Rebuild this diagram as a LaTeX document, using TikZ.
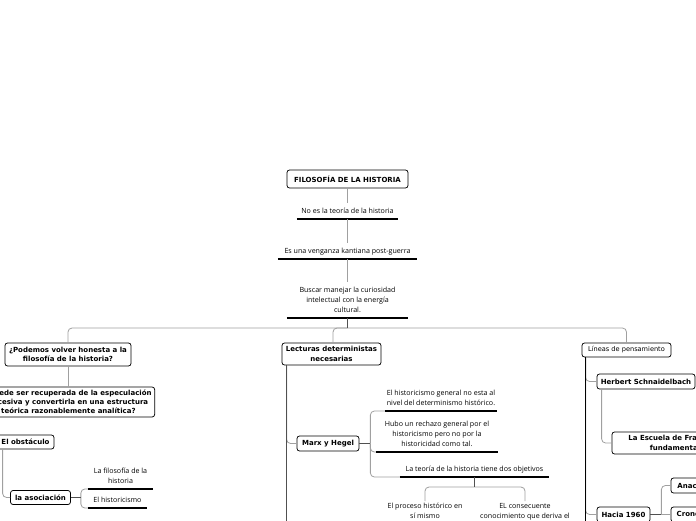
\documentclass[tikz,border=0pt]{standalone}
\usepackage{fontspec}
\newfontfamily\plainf{Open Sans}
\newfontfamily\boxf{DejaVu Sans}
\definecolor{lgray}{HTML}{A0A0A0}
\definecolor{dgray}{HTML}{505050}
\begin{document}
\begin{tikzpicture}[x=1pt,y=-1pt,
  box/.style={draw=black,line width=0.75pt,rounded corners=2.5pt,fill=white,align=center,inner sep=0pt,font=\boxf\bfseries\fontsize{7}{9.3}\selectfont},
  sbox/.style={box,inner xsep=3pt,font=\boxf\bfseries\fontsize{7}{9}\selectfont},
  lbox/.style={box,font=\boxf\fontsize{6.6}{8}\selectfont},
  topic/.style={align=center,inner xsep=0pt,inner ysep=5pt,anchor=south,font=\plainf\fontsize{7.1}{10}\selectfont},
  one/.style={text depth=0pt},
  leaf/.style={align=center,inner sep=2pt,anchor=north,font=\plainf\fontsize{7.1}{10}\selectfont},
  under/.style={draw=black,line width=1.2pt},
  conn/.style={draw=lgray,line width=0.8pt,rounded corners=4pt},
  dconn/.style={draw=dgray,line width=0.9pt},
  trunkg/.style={draw=dgray,line width=0.9pt},
  trunk/.style={draw=black,line width=1.2pt}]
\fill[white] (0,0) rectangle (696,520);
\useasboundingbox (0,0) rectangle (696,520);

% centre column
\node[box,minimum width=121pt,minimum height=18pt] (root) at (347.5,179) {FILOSOFÍA DE LA HISTORIA};
\node[topic,one,minimum width=101pt] (t1) at (347.5,219) {No es la teoría de la historia};
\node[topic,one,minimum width=139pt] (t2) at (347.5,259) {Es una venganza kantiana post-guerra};
\node[topic,minimum width=121pt] (t3) at (347.5,318) {Buscar manejar la curiosidad\\intelectual con la energía\\cultural.};

% level 1
\node[box,minimum width=126pt,minimum height=23pt] (podemos) at (68,354.5) {¿Podemos volver honesta a la\\filosofía de la historia?};
\node[box,minimum width=99pt,minimum height=22pt] (lecturas) at (331.5,354) {Lecturas deterministas\\necesarias};
\node[lbox,minimum width=89pt,minimum height=14pt] (lineas) at (626.5,350) {Líneas de pensamiento};

% left branch
\node[sbox,minimum height=30pt,anchor=east] (puede) at (155,402) {¿Puede ser recuperada de la especulación\\excesiva y convertirla en una estructura\\teórica razonablemente analítica?};
\node[box,minimum width=57pt,minimum height=14pt] (obst) at (25.5,442) {El obstáculo};
\node[box,minimum width=60pt,minimum height=14pt] (asoc) at (40.5,497.5) {la asociación};
\node[topic,minimum width=65pt] (fil) at (120.5,489) {La filosofía de la\\historia};
\node[topic,one,minimum width=59pt] (hist) at (117.5,508) {El historicismo};

% centre branch
\node[box,minimum width=62pt,minimum height=15pt] (marx) at (328,443.5) {Marx y Hegel};
\node[topic,minimum width=112pt] (h1) at (441,411) {El historicismo general no esta al\\nivel del determinismo histórico.};
\node[topic,minimum width=122pt] (h2) at (437,452) {Hubo un rechazo general por el\\historicismo pero no por la\\historicidad como tal.};
\node[topic,one,minimum width=149pt] (h3) at (474.5,477) {La teoría de la historia tiene dos objetivos};
\node[leaf] (p1) at (425,501) {El proceso histórico en\\sí mismo};
\node[leaf] (p2) at (525,501) {EL consecuente\\conocimiento que deriva el};

% right branch
\node[box,minimum width=98pt,minimum height=15pt] (herb) at (646,381.5) {Herbert Schnaidelbach};
\node[box,minimum width=126pt,minimum height=22pt] (escu) at (675,443) {La Escuela de Frankfurt\\fundamental};
\node[box,minimum width=53pt,minimum height=15pt] (hacia) at (623.5,514.5) {Hacia 1960};
\node[box,minimum width=64pt,minimum height=15pt] (anac) at (703,485.5) {Anacronismo};
\node[box,minimum width=54pt,minimum height=15pt] (crono) at (698,514.5) {Cronología};

% underlines
\foreach \n in {t1,t2,t3,fil,hist,h1,h2,h3}
  \draw[under] (\n.south west) -- (\n.south east);

% connectors: centre column
\draw[conn] (root.south) -- (t1.north);
\draw[conn] (t1.south) -- (t2.north);
\draw[conn] (t2.south) -- (t3.north);
\coordinate (hub) at ([yshift=-10pt]t3.south);
\draw[conn] (hub) -| (podemos.north);
\draw[conn] (hub) -| ([xshift=1.5pt]lecturas.north);
\draw[conn] (hub) -| (lineas.north);
\draw[dconn] (t3.south) -- (hub);

% left
\draw[conn] (podemos.south) -- (podemos.south |- puede.north);
\draw[conn] ([xshift=6pt]obst.south west) |- (asoc.west);
\coordinate (aj) at ([xshift=10pt]asoc.east);
\draw[conn] (aj) |- (fil.south west);
\draw[conn] (aj) |- (hist.south west);
\draw[dconn] (asoc.east) -- (aj);

% centre
\coordinate (lt) at ([xshift=5pt]lecturas.south west);
\coordinate (lend) at ([yshift=-175pt]lt);
\draw[conn] (lt) |- (marx.west);
\draw[trunkg] (lt) -- (lend);
\coordinate (mj) at ([xshift=11pt]marx.east);
\draw[conn] (mj) |- (h1.south west);
\draw[conn] (mj) |- (h2.south west);
\draw[conn] (mj) |- (h3.south west);
\draw[dconn] (marx.east) -- (mj);
\coordinate (hj) at ([yshift=-10pt]h3.south);
\draw[conn] (hj) -| (p1.north);
\draw[conn] (hj) -| (p2.north);
\draw[dconn] (h3.south) -- (hj);

% right
\coordinate (rt) at ([xshift=4pt]lineas.south west);
\coordinate (rend) at ([yshift=-185pt]rt);
\draw[conn] (rt) |- (herb.west);
\draw[conn] (rt) |- (hacia.west);
\draw[trunk] (rt) -- (rend);
\draw[conn] ([xshift=5pt]herb.south west) |- (escu.west);
\coordinate (cj) at ([xshift=11pt]hacia.east);
\draw[conn] (cj) |- (anac.west);
\draw[conn] (cj) -- (crono.west);
\draw[dconn] (hacia.east) -- (cj);
\end{tikzpicture}
\end{document}
